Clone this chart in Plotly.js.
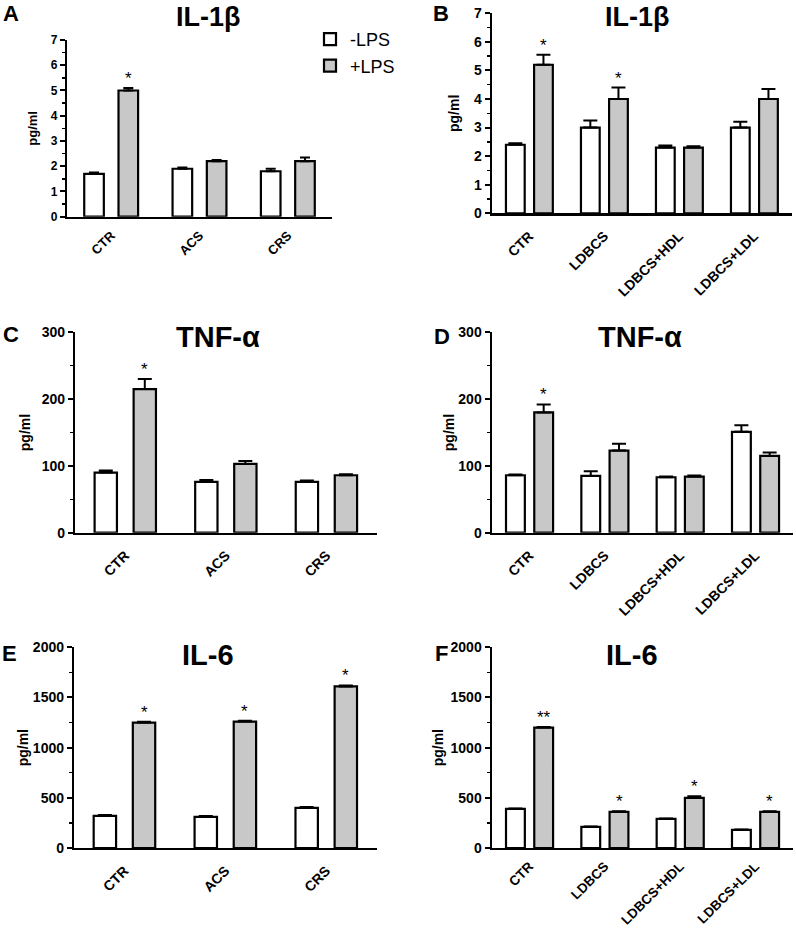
<!DOCTYPE html>
<html>
<head>
<meta charset="utf-8">
<script src="https://cdn.plot.ly/plotly-3.0.1.min.js"></script>
<style>html,body{margin:0;padding:0;background:#fff;}#chart{width:796px;height:930px;}</style>
</head>
<body>
<div id="chart"></div>
<script>
// ---------- DATA ----------
const catsLeft = ['CTR', 'ACS', 'CRS'];
const catsRight = ['CTR', 'LDBCS', 'LDBCS+HDL', 'LDBCS+LDL'];
const seriesNames = ['-LPS', '+LPS'];

// IL-1β (A)
const il1bLeftMinus = [1.7, 1.9, 1.8];
const il1bLeftMinusErr = [0.05, 0.05, 0.1];
const il1bLeftPlus = [5.0, 2.2, 2.2];
const il1bLeftPlusErr = [0.1, 0.05, 0.15];
const il1bLeftSig = ['*', '', ''];

// IL-1β (B)
const il1bRightMinus = [2.4, 3.0, 2.3, 3.0];
const il1bRightMinusErr = [0.05, 0.25, 0.07, 0.2];
const il1bRightPlus = [5.2, 4.0, 2.3, 4.0];
const il1bRightPlusErr = [0.35, 0.4, 0.05, 0.35];
const il1bRightSig = ['*', '*', '', ''];

// TNF-α (C)
const tnfLeftMinus = [90, 76, 76];
const tnfLeftMinusErr = [3, 3, 2];
const tnfLeftPlus = [215, 103, 86];
const tnfLeftPlusErr = [15, 4.5, 1.5];
const tnfLeftSig = ['*', '', ''];

// TNF-α (D)
const tnfRightMinus = [86, 85, 83, 151];
const tnfRightMinusErr = [1, 7, 1, 10];
const tnfRightPlus = [180, 123, 84, 115];
const tnfRightPlusErr = [12, 10, 1.5, 5];
const tnfRightSig = ['*', '', '', ''];

// IL-6 (E)
const il6LeftMinus = [320, 310, 400];
const il6LeftMinusErr = [8, 8, 8];
const il6LeftPlus = [1250, 1260, 1610];
const il6LeftPlusErr = [8, 8, 10];
const il6LeftSig = ['*', '*', '*'];

// IL-6 (F)
const il6RightMinus = [390, 210, 290, 180];
const il6RightMinusErr = [4, 4, 4, 4];
const il6RightPlus = [1200, 360, 500, 360];
const il6RightPlusErr = [6, 6, 15, 6];
const il6RightSig = ['**', '*', '*', '*'];

const yMax = {il1b: 7, tnf: 300, il6: 2000};
const yDtick = {il1b: 1, tnf: 100, il6: 500};

// ---------- LAYOUT HELPERS ----------
const W = 796, H = 930;
const FONT = 'Liberation Sans, Arial, Helvetica, sans-serif';
function dom(x0, x1, y0, y1) { return {x: [x0 / W, x1 / W], y: [(H - y1) / H, (H - y0) / H]}; }

const panels = [
  {id: '', letter: 'A', title: 'IL-1β', cats: catsLeft, minus: il1bLeftMinus, minusErr: il1bLeftMinusErr,
   plus: il1bLeftPlus, plusErr: il1bLeftPlusErr, sig: il1bLeftSig, ymax: yMax.il1b, dtick: yDtick.il1b,
   box: dom(67, 332, 40, 216.7), geo: {wo: -0.305, go: 0.083, w: 0.222}, fs: 13, tickfs: 12, ytfs: 13, titlefs: 27,
   titlePos: [208, 17], letterPos: [11, 13], standoff: 10, capw: 5, xlabOff: 4, legend: true},
  {id: '2', letter: 'B', title: 'IL-1β', cats: catsRight, minus: il1bRightMinus, minusErr: il1bRightMinusErr,
   plus: il1bRightPlus, plusErr: il1bRightPlusErr, sig: il1bRightSig, ymax: yMax.il1b, dtick: yDtick.il1b,
   box: dom(491.7, 791.7, 13.3, 213.3), geo: {wo: -0.31, go: 0.065, w: 0.25}, fs: 14, tickfs: 14, ytfs: 14, titlefs: 27,
   titlePos: [637, 17], letterPos: [441, 13], standoff: 11, capw: 7, xlabOff: 7},
  {id: '3', letter: 'C', title: 'TNF-α', cats: catsLeft, minus: tnfLeftMinus, minusErr: tnfLeftMinusErr,
   plus: tnfLeftPlus, plusErr: tnfLeftPlusErr, sig: tnfLeftSig, ymax: yMax.tnf, dtick: yDtick.tnf,
   box: dom(75, 376.7, 332.3, 532.7), geo: {wo: -0.305, go: 0.083, w: 0.222}, fs: 14, tickfs: 14, ytfs: 14, titlefs: 29,
   titlePos: [218, 337], letterPos: [11, 334], standoff: 8, capw: 7, xlabOff: 7},
  {id: '4', letter: 'D', title: 'TNF-α', cats: catsRight, minus: tnfRightMinus, minusErr: tnfRightMinusErr,
   plus: tnfRightPlus, plusErr: tnfRightPlusErr, sig: tnfRightSig, ymax: yMax.tnf, dtick: yDtick.tnf,
   box: dom(491.7, 793, 332.3, 532.7), geo: {wo: -0.31, go: 0.065, w: 0.25}, fs: 14, tickfs: 14, ytfs: 14, titlefs: 29,
   titlePos: [640, 337], letterPos: [442, 337], standoff: 1, capw: 7, xlabOff: 7},
  {id: '5', letter: 'E', title: 'IL-6', cats: catsLeft, minus: il6LeftMinus, minusErr: il6LeftMinusErr,
   plus: il6LeftPlus, plusErr: il6LeftPlusErr, sig: il6LeftSig, ymax: yMax.il6, dtick: yDtick.il6,
   box: dom(74, 376.7, 647.3, 848), geo: {wo: -0.305, go: 0.083, w: 0.222}, fs: 14, tickfs: 14, ytfs: 14, titlefs: 29,
   titlePos: [208, 655], letterPos: [9, 653], standoff: 1, capw: 7, xlabOff: 7},
  {id: '6', letter: 'F', title: 'IL-6', cats: catsRight, minus: il6RightMinus, minusErr: il6RightMinusErr,
   plus: il6RightPlus, plusErr: il6RightPlusErr, sig: il6RightSig, ymax: yMax.il6, dtick: yDtick.il6,
   box: dom(491.7, 793, 647.3, 848), geo: {wo: -0.31, go: 0.065, w: 0.25}, fs: 13.5, tickfs: 14, ytfs: 14, titlefs: 29,
   titlePos: [632, 655], letterPos: [441, 653], standoff: 4, capw: 7, xlabOff: 3}
];

const data = [];
const layout = {
  width: W, height: H,
  margin: {l: 0, r: 0, t: 0, b: 0},
  paper_bgcolor: '#ffffff', plot_bgcolor: 'rgba(0,0,0,0)',
  barmode: 'overlay',
  showlegend: true,
  legend: {x: 310 / W, y: (H - 21) / H, xanchor: 'left', yanchor: 'top', bgcolor: 'rgba(0,0,0,0)',
           font: {family: FONT, size: 18, color: '#000'}, itemwidth: 30, tracegroupgap: 0},
  font: {family: FONT, color: '#000'},
  annotations: []
};

panels.forEach(p => {
  const xa = 'x' + p.id, ya = 'y' + p.id;
  const fills = ['#ffffff', '#c8c8c8'];
  const vals = [p.minus, p.plus], errs = [p.minusErr, p.plusErr], offs = [p.geo.wo, p.geo.go];
  for (let s = 0; s < 2; s++) {
    data.push({
      type: 'bar', name: seriesNames[s], x: p.cats, y: vals[s], xaxis: xa, yaxis: ya,
      offset: offs[s], width: p.geo.w,
      marker: {color: fills[s], line: {color: '#000', width: 2.2}},
      error_y: {type: 'data', symmetric: false, array: errs[s], arrayminus: errs[s].map(() => 0),
                color: '#000', thickness: 2, width: p.capw},
      showlegend: !!p.legend, hoverinfo: 'skip'
    });
  }
  const axKeyX = 'xaxis' + p.id, axKeyY = 'yaxis' + p.id;
  layout[axKeyX] = {
    domain: p.box.x, anchor: ya, type: 'category', range: [-0.5, p.cats.length - 0.5],
    showline: true, linecolor: '#000', linewidth: 2.2, ticks: '', showgrid: false, zeroline: false,
    tickangle: -45, ticklabelstandoff: p.xlabOff,
    tickfont: {family: FONT, size: p.fs, weight: 'bold', color: '#000'}, fixedrange: true
  };
  layout[axKeyY] = {
    domain: p.box.y, anchor: xa, range: [0, p.ymax], dtick: p.dtick, tick0: 0,
    showline: true, linecolor: '#000', linewidth: 2.2, ticks: 'outside', ticklen: 5, tickwidth: 2, tickcolor: '#000',
    minor: {dtick: p.dtick / 2, ticks: 'outside', ticklen: 3, tickwidth: 1.5, tickcolor: '#000'},
    showgrid: false, zeroline: false,
    tickfont: {family: FONT, size: p.tickfs, weight: 'bold', color: '#000'},
    title: {text: 'pg/ml', font: {family: FONT, size: p.ytfs, weight: 'bold', color: '#000'}, standoff: p.standoff},
    fixedrange: true
  };
  // panel title
  layout.annotations.push({xref: 'paper', yref: 'paper', x: p.titlePos[0] / W, y: (H - p.titlePos[1]) / H,
    xanchor: 'center', yanchor: 'middle', showarrow: false, text: p.title,
    font: {family: FONT, size: p.titlefs, weight: 'bold', color: '#000'}});
  // panel letter
  layout.annotations.push({xref: 'paper', yref: 'paper', x: p.letterPos[0] / W, y: (H - p.letterPos[1]) / H,
    xanchor: 'center', yanchor: 'middle', showarrow: false, text: p.letter,
    font: {family: FONT, size: 22, weight: 'bold', color: '#000'}});
  // significance stars above +LPS bars
  const grayCenter = p.geo.go + p.geo.w / 2;
  p.sig.forEach((t, i) => {
    if (!t) return;
    layout.annotations.push({xref: xa, yref: ya, x: i + grayCenter, y: p.plus[i] + p.plusErr[i],
      xanchor: 'center', yanchor: 'bottom', showarrow: false, text: t, yshift: -2,
      font: {family: FONT, size: 17, color: '#000'}});
  });
});

Plotly.newPlot('chart', data, layout, {staticPlot: true, displayModeBar: false});
</script>
</body>
</html>
